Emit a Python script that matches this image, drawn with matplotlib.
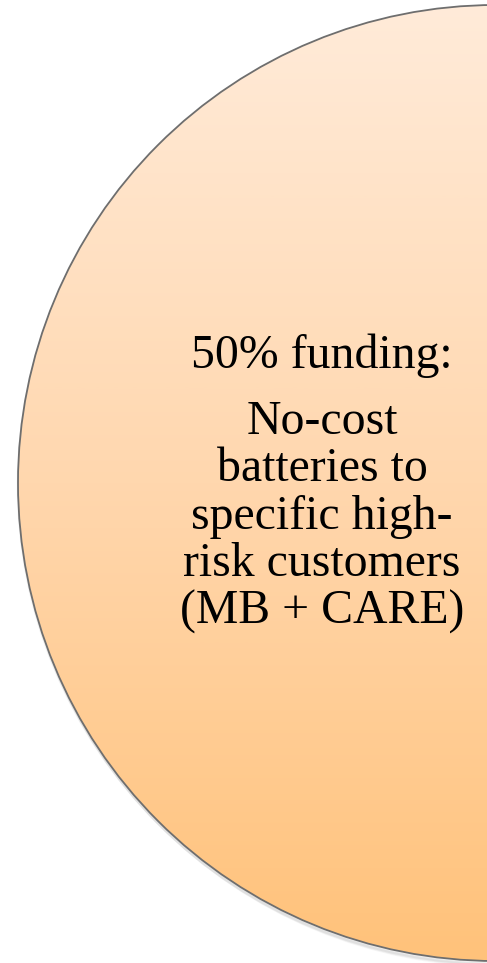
import numpy as np
import matplotlib
matplotlib.use("Agg")
import matplotlib.pyplot as plt
from matplotlib.patches import Circle
from matplotlib.colors import LinearSegmentedColormap

heading = "50% funding:"
body_lines = ["No-cost", "batteries to", "specific high-", "risk customers", "(MB + CARE)"]
share = 50

W, H = 487, 963
fig = plt.figure(figsize=(W / 100, H / 100), dpi=100)
ax = fig.add_axes([0, 0, 1, 1])
ax.set_xlim(0, W)
ax.set_ylim(H, 0)
ax.axis("off")

cx, cy, r = 496, 483, 478

# soft shadow
for i, a in enumerate([0.05, 0.04, 0.03]):
    sh = Circle((cx + 1 + i, cy + 2 + i), r + 0.5, facecolor="none",
                edgecolor=(0, 0, 0, a), linewidth=2.5, zorder=1)
    ax.add_patch(sh)

cmap = LinearSegmentedColormap.from_list(
    "peach", ["#FFEBD9", "#FFD7AE", "#FFC27A"])
grad = np.linspace(0, 1, 512).reshape(-1, 1)
im = ax.imshow(grad, cmap=cmap, extent=[cx - r, cx + r, cy + r, cy - r],
               aspect="auto", zorder=2, interpolation="bilinear")
clip = Circle((cx, cy), r, transform=ax.transData, facecolor="none")
ax.add_patch(clip)
im.set_clip_path(clip)

edge = Circle((cx, cy), r, facecolor="none", edgecolor="#6E6E6E",
              linewidth=1.3, zorder=3)
ax.add_patch(edge)

font = ["Liberation Serif", "DejaVu Serif"]
ax.text(322, 356, heading, ha="center", va="center", fontsize=34.4,
        family=font, color="#000000", zorder=4)
ax.text(322, 517, "\n".join(body_lines), ha="center", va="center",
        fontsize=34.4, family=font, color="#000000", zorder=4,
        linespacing=1.1)

fig.savefig("out.png", dpi=100, facecolor="white")
